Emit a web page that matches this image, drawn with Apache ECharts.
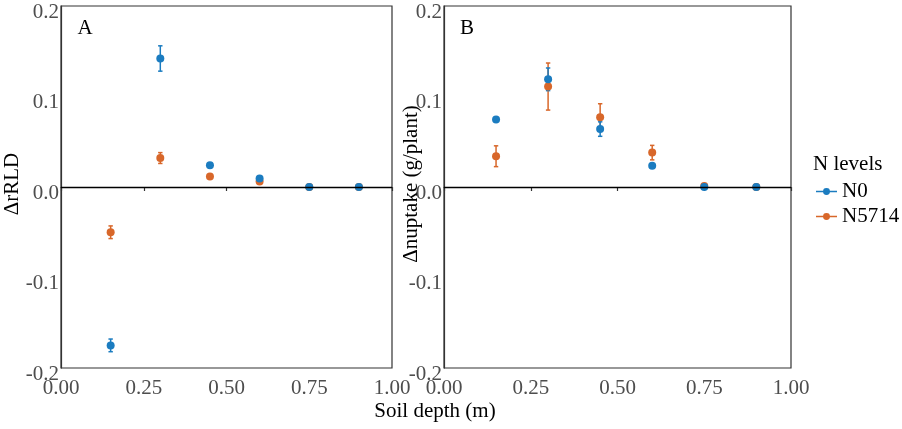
<!DOCTYPE html>
<html>
<head>
<meta charset="utf-8">
<title>Soil depth effects</title>
<script src="https://cdn.jsdelivr.net/npm/echarts@6/dist/echarts.min.js"></script>
<style>
  html, body { margin: 0; padding: 0; background: #fff; }
  #chart { width: 902px; height: 429px; }
</style>
</head>
<body>
<div id="chart"></div>
<script>
// Soil depth (m) sampled in each panel
const depths = [0.15, 0.30, 0.45, 0.60, 0.75, 0.90];

// Panel A: change in relative root length density
const rrldN0 = [-0.175, 0.142, 0.024, 0.0095, 0.0, 0.0];
const rrldN0Se = [0.007, 0.014, 0.002, 0.002, 0.001, 0.001];
const rrldN5714 = [-0.050, 0.032, 0.0115, 0.006, 0.0, 0.0];
const rrldN5714Se = [0.007, 0.006, 0.002, 0.002, 0.001, 0.001];

// Panel B: change in N uptake (g/plant)
const uptakeN0 = [0.0745, 0.119, 0.064, 0.0235, 0.0, 0.0];
const uptakeN0Se = [0.002, 0.0125, 0.008, 0.002, 0.0015, 0.0015];
const uptakeN5714 = [0.034, 0.111, 0.077, 0.038, 0.0012, 0.0];
const uptakeN5714Se = [0.0115, 0.026, 0.015, 0.008, 0.001, 0.001];

// Axis ticks
const xTicks = [0, 0.25, 0.5, 0.75, 1.0];
const yTicks = [-0.2, -0.1, 0.0, 0.1, 0.2];

const levels = ['N0', 'N5714'];
const colors = { N0: '#1b7cc0', N5714: '#d8672a' };
const FONT = 'Liberation Serif';
const TEXT_FONT = '21px "Liberation Serif"';

const chart = echarts.init(document.getElementById('chart'), null, { renderer: 'canvas' });

function xAxisFor(gridIndex) {
  return {
    gridIndex, type: 'value',
    min: xTicks[0], max: xTicks[xTicks.length - 1],
    interval: xTicks[1] - xTicks[0],
    axisLine: { show: true, lineStyle: { color: '#333', width: 1.2 } },
    axisTick: { show: true, length: 4, lineStyle: { color: '#333', width: 1.2 } },
    splitLine: { show: false },
    axisLabel: {
      margin: 10, color: '#4d4d4d', fontFamily: FONT, fontSize: 21,
      formatter: v => v.toFixed(2)
    }
  };
}

function yAxisFor(gridIndex) {
  return {
    gridIndex, type: 'value',
    min: yTicks[0], max: yTicks[yTicks.length - 1],
    interval: yTicks[1] - yTicks[0],
    axisLine: { show: true, lineStyle: { color: '#333', width: 1.2 } },
    axisTick: { show: false },
    splitLine: { show: false },
    axisLabel: {
      margin: 2, color: '#4d4d4d', fontFamily: FONT, fontSize: 21,
      verticalAlign: 'top', lineHeight: 12,
      formatter: v => (Math.abs(v) < 1e-9 ? 0 : v).toFixed(1)
    }
  };
}

function errorSeries(gridIndex, level, values, ses) {
  return {
    type: 'custom',
    xAxisIndex: gridIndex, yAxisIndex: gridIndex,
    silent: true,
    data: depths.map((d, i) => [d, values[i] - ses[i], values[i] + ses[i]]),
    renderItem: (params, api) => {
      const lo = api.coord([api.value(0), api.value(1)]);
      const hi = api.coord([api.value(0), api.value(2)]);
      const cap = 2.2;
      const style = { stroke: colors[level], lineWidth: 1.5 };
      return {
        type: 'group',
        children: [
          { type: 'line', shape: { x1: lo[0], y1: lo[1], x2: hi[0], y2: hi[1] }, style },
          { type: 'line', shape: { x1: lo[0] - cap, y1: lo[1], x2: lo[0] + cap, y2: lo[1] }, style },
          { type: 'line', shape: { x1: hi[0] - cap, y1: hi[1], x2: hi[0] + cap, y2: hi[1] }, style }
        ]
      };
    }
  };
}

function pointSeries(gridIndex, level, values, withZeroLine) {
  const s = {
    name: level,
    type: 'scatter',
    xAxisIndex: gridIndex, yAxisIndex: gridIndex,
    symbol: 'circle', symbolSize: 8,
    itemStyle: { color: colors[level], opacity: 1 },
    data: depths.map((d, i) => [d, values[i]])
  };
  if (withZeroLine) {
    s.markLine = {
      silent: true, symbol: 'none', label: { show: false },
      lineStyle: { color: '#000', width: 1.3, type: 'solid' },
      data: [{ yAxis: 0 }]
    };
  }
  return s;
}

// Legend glyph: short line with a dot on it
const legendIcon = 'path://M0,3.4H20V4.6H0Z M13.3,4A3.3,3.3 0 1 1 6.7,4A3.3,3.3 0 1 1 13.3,4Z';

function label(text, x, y, extra) {
  return Object.assign({
    type: 'text', x, y,
    style: { text, fill: '#000', font: TEXT_FONT, textAlign: 'center', textVerticalAlign: 'middle' }
  }, extra || {});
}

const option = {
  animation: false,
  backgroundColor: '#fff',
  grid: [
    { left: 61, top: 6, width: 331, height: 362, show: true, borderColor: '#333', borderWidth: 1.2, backgroundColor: 'transparent' },
    { left: 444, top: 6, width: 347, height: 362, show: true, borderColor: '#333', borderWidth: 1.2, backgroundColor: 'transparent' }
  ],
  xAxis: [xAxisFor(0), xAxisFor(1)],
  yAxis: [yAxisFor(0), yAxisFor(1)],
  legend: {
    orient: 'vertical', left: 816, top: 181, padding: 0,
    itemWidth: 21, itemHeight: 8, itemGap: 4,
    textStyle: { color: '#000', fontFamily: FONT, fontSize: 21, lineHeight: 16 },
    data: levels.map(l => ({ name: l, icon: legendIcon }))
  },
  graphic: [
    label('A', 85, 28),
    label('B', 467, 28),
    label('Soil depth (m)', 435, 411),
    label('ΔrRLD', 12, 184, { rotation: Math.PI / 2 }),
    label('Δnuptake (g/plant)', 411, 184, { rotation: Math.PI / 2 }),
    { type: 'text', x: 813, y: 164, style: { text: 'N levels', fill: '#000', font: TEXT_FONT, textVerticalAlign: 'middle' } }
  ],
  series: [
    errorSeries(0, 'N5714', rrldN5714, rrldN5714Se),
    pointSeries(0, 'N5714', rrldN5714, true),
    errorSeries(0, 'N0', rrldN0, rrldN0Se),
    pointSeries(0, 'N0', rrldN0, false),
    errorSeries(1, 'N5714', uptakeN5714, uptakeN5714Se),
    pointSeries(1, 'N5714', uptakeN5714, true),
    errorSeries(1, 'N0', uptakeN0, uptakeN0Se),
    pointSeries(1, 'N0', uptakeN0, false)
  ]
};

chart.setOption(option);
</script>
</body>
</html>
